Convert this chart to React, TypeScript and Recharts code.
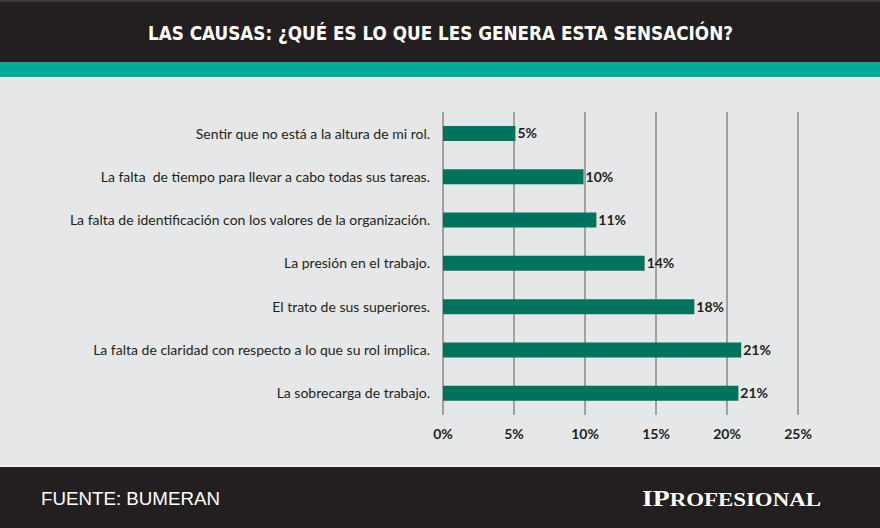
import { BarChart, Bar, XAxis, YAxis, CartesianGrid, LabelList } from 'recharts'

const causes = [
    'Sentir que no está a la altura de mi rol.',
    'La falta\u00a0 de tiempo para llevar a cabo todas sus tareas.',
    'La falta de identificación con los valores de la organización.',
    'La presión en el trabajo.',
    'El trato de sus superiores.',
    'La falta de claridad con respecto a lo que su rol implica.',
    'La sobrecarga de trabajo.',
]
const shares = [5.1, 9.9, 10.8, 14.2, 17.7, 21.0, 20.8]
const percentTicks = [0, 5, 10, 15, 20, 25]

const data = causes.map((cause, i) => ({ cause, share: shares[i] }))

const App = () => {
    return (
        <div style={{ position: 'absolute', left: 0, top: 0, width: 880, height: 528, background: '#e6e7e8', overflow: 'hidden' }}>
            <svg width={880} height={528} style={{ position: 'absolute', left: 0, top: 0 }}>
                <rect x={0} y={0} width={880} height={62} fill='#231f20' />
                <rect x={0} y={0} width={880} height={2} fill='#3a3738' />
                <rect x={0} y={62} width={880} height={15} fill='#00ab97' />
                <rect x={0} y={466} width={880} height={1} fill='#f4f4f4' />
                <rect x={0} y={467} width={880} height={61} fill='#231f20' />
                <text x={148} y={40} fill='#fff' fontFamily='"DejaVu Sans Condensed", "DejaVu Sans"' fontWeight={700} fontSize={20}
                    textLength={585} lengthAdjust='spacingAndGlyphs'>
                    LAS CAUSAS: ¿QUÉ ES LO QUE LES GENERA ESTA SENSACIÓN?
                </text>
                <text x={41} y={505} fill='#fff' fontFamily='"Liberation Sans", Arial' fontSize={18}
                    textLength={179} lengthAdjust='spacingAndGlyphs'>
                    FUENTE: BUMERAN
                </text>
                <text x={642} y={506} fill='#fff' fontFamily='"Liberation Serif", serif' fontWeight={700}
                    textLength={179} lengthAdjust='spacingAndGlyphs'>
                    <tspan fontSize={23}>IP</tspan><tspan fontSize={19}>ROFESIONAL</tspan>
                </text>
            </svg>
            <div style={{ position: 'absolute', left: 0, top: 0 }}>
                <BarChart width={880} height={528} data={data} layout='vertical'
                    margin={{ top: 112, right: 82, bottom: 83, left: 0 }} barCategoryGap={14}>
                    <CartesianGrid horizontal={false} vertical stroke='#8a8a8a' strokeWidth={1.5} />
                    <XAxis type='number' domain={[0, 25]} ticks={percentTicks} tickFormatter={(v) => `${v}%`}
                        axisLine={false} tickLine={false} tickSize={0} tickMargin={14} height={30}
                        tick={{ fill: '#231f20', fontSize: 14, fontWeight: 700, fontFamily: 'Lato' }} interval={0} />
                    <YAxis type='category' dataKey='cause' width={443} axisLine={false} tickLine={false}
                        tickSize={0} tickMargin={13} interval={0}
                        tick={{ fill: '#231f20', fontSize: 14, fontFamily: 'Lato' }} />
                    <Bar dataKey='share' fill='#00735e' barSize={15} isAnimationActive={false}>
                        <LabelList dataKey='share' position='right' offset={2}
                            formatter={(v: any) => `${Math.round(Number(v))}%`}
                            style={{ fill: '#231f20', fontSize: 14, fontWeight: 700, fontFamily: 'Lato' }} />
                    </Bar>
                </BarChart>
            </div>
        </div>
    )
}

export default App
